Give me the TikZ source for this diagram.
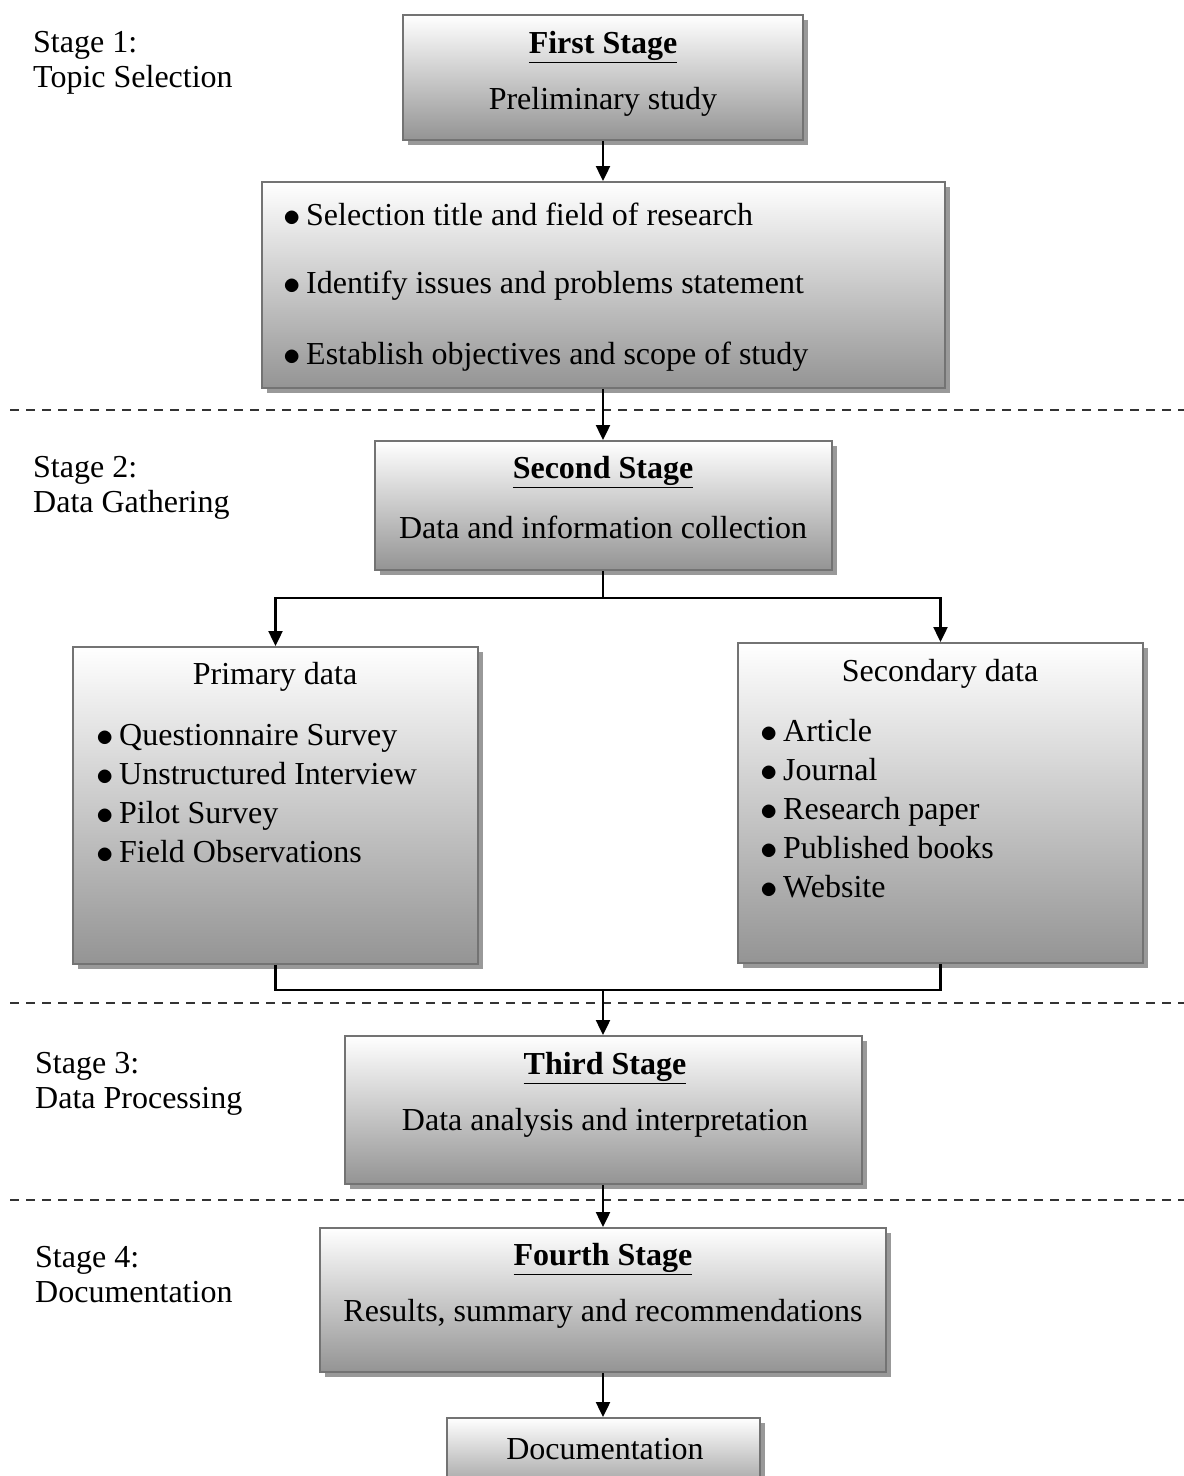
\documentclass[tikz,border=0pt]{standalone}
\usepackage{fontspec}
\setmainfont{Liberation Serif}
\usetikzlibrary{arrows.meta,shadows}

\newcommand{\bul}{\makebox[23pt][l]{\raisebox{-1pt}{\scalebox{1.4}{$\bullet$}}}}

\tikzset{
  stagebox/.style={draw=black!55, line width=2pt, top color=white, bottom color=black!42,
    inner sep=0pt, drop shadow={shadow xshift=5pt, shadow yshift=-5pt, fill=black!40, opacity=1}},
  flowline/.style={line width=2.4pt, black},
  flowarrow/.style={flowline, -{Triangle[length=15pt,width=14pt]}},
  stageline/.style={line width=1.3pt, black!80, dash pattern=on 9pt off 7pt},
  txt/.style={inner sep=0pt, font=\fontsize{32pt}{35pt}\selectfont},
  listtxt/.style={txt, anchor=west, align=left, font=\fontsize{32pt}{39pt}\selectfont},
}

\begin{document}
\begin{tikzpicture}[x=1pt,y=-1pt]
      \useasboundingbox (0,0) rectangle (1184,1476);
      \clip (0,0) rectangle (1184,1476);

      % stage separators
      \draw[stageline] (10,410) -- (1184,410);
      \draw[stageline] (10,1003) -- (1184,1003);
      \draw[stageline] (10,1200) -- (1184,1200);

      % stage labels
      \node[txt, anchor=west, align=left] (lab1) at (33,63) {Stage 1:\\Topic Selection};
      \node[txt, anchor=west, align=left] (lab2) at (33,488) {Stage 2:\\Data Gathering};
      \node[txt, anchor=west, align=left] (lab3) at (35,1084) {Stage 3:\\Data Processing};
      \node[txt, anchor=west, align=left] (lab4) at (35,1275) {Stage 4:\\Documentation};

      % boxes
      \node[stagebox, minimum width=400pt, minimum height=125pt] (first) at (603,77.5) {};
      \node[stagebox, minimum width=683pt, minimum height=206pt] (topic) at (603,285) {};
      \node[stagebox, minimum width=457pt, minimum height=129pt] (second) at (603,505.5) {};
      \node[stagebox, minimum width=405pt, minimum height=317pt] (primary) at (275.5,805.5) {};
      \node[stagebox, minimum width=405pt, minimum height=320pt] (secondary) at (940.5,803) {};
      \node[stagebox, minimum width=517pt, minimum height=148pt] (third) at (603,1110) {};
      \node[stagebox, minimum width=566pt, minimum height=144pt] (fourth) at (603,1300) {};
      \node[stagebox, minimum width=313pt, minimum height=80pt] (doc) at (603,1458) {};

      % box texts
      \node[txt] (firstT) at (603,47) {\underline{\textbf{First Stage}}};
      \node[txt] (firstS) at (603,102) {Preliminary study};
      \node[listtxt] (t1) at (283,215) {\bul Selection title and field of research};
      \node[listtxt] (t2) at (283,286) {\bul Identify issues and problems statement};
      \node[listtxt] (t3) at (283,357) {\bul Establish objectives and scope of study};
      \node[txt] (secondT) at (603,472) {\underline{\textbf{Second Stage}}};
      \node[txt] (secondS) at (603,527) {Data and information collection};
      \node[txt] (primT) at (275,677) {Primary data};
      \node[listtxt] (primL) at (96,794)
        {\bul Questionnaire Survey\\\bul Unstructured Interview\\\bul Pilot Survey\\\bul Field Observations};
      \node[txt] (secT) at (940,674) {Secondary data};
      \node[listtxt] (secL) at (760,809)
        {\bul Article\\\bul Journal\\\bul Research paper\\\bul Published books\\\bul Website};
      \node[txt] (thirdT) at (605,1068) {\underline{\textbf{Third Stage}}};
      \node[txt] (thirdS) at (605,1123) {Data analysis and interpretation};
      \node[txt] (fourthT) at (603,1259) {\underline{\textbf{Fourth Stage}}};
      \node[txt] (fourthS) at (603,1314) {Results, summary and recommendations};
      \node[txt] (docT) at (605,1449) {Documentation};

      % connectors
      \coordinate (split) at (603,598);
      \coordinate (merge) at (603,990);
      \draw[flowarrow] (first) -- (topic);
      \draw[flowarrow] (topic) -- (second);
      \draw[flowline] (second) -- (split);
      \draw[flowarrow] (split) -| (primary.north);
      \draw[flowarrow] (split) -| (secondary.north);
      \draw[flowline] (primary.south) |- (merge);
      \draw[flowline] (secondary.south) |- (merge);
      \draw[flowarrow] (merge) -- (third);
      \draw[flowarrow] (third) -- (fourth);
      \draw[flowarrow] (fourth) -- (doc);
\end{tikzpicture}
\end{document}
